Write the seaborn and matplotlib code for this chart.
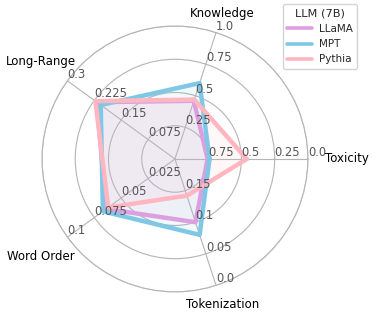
import numpy as np
import pandas as pd
import matplotlib
matplotlib.use('Agg')
import matplotlib.pyplot as plt
from matplotlib.lines import Line2D
import seaborn as sns

# Ejes del radar (sentido antihorario desde la derecha)
categorias = ['Toxicity', 'Knowledge', 'Long-Range', 'Word Order', 'Tokenization']

# Valor en el centro y en el borde exterior de cada eje
valor_centro = [1.0, 0.0, 0.0, 0.0, 0.2]
valor_borde = [0.0, 1.0, 0.3, 0.1, 0.0]

# Etiquetas de los anillos para cada eje
etiquetas_anillos = [
    ['0.75', '0.5', '0.25', '0.0'],
    ['0.25', '0.5', '0.75', '1.0'],
    ['0.075', '0.15', '0.225', '0.3'],
    ['0.025', '0.05', '0.075', '0.1'],
    ['0.15', '0.1', '0.05', '0.0'],
]

# Valores de cada modelo
modelos = ['LLaMA', 'MPT', 'Pythia']
llama = [0.755, 0.46, 0.218, 0.064, 0.100]
mpt = [0.740, 0.60, 0.207, 0.067, 0.080]
pythia = [0.460, 0.47, 0.222, 0.062, 0.142]

colores = {'LLaMA': '#dca0e0', 'MPT': '#7ec8e6', 'Pythia': '#ffb6c1'}


def normalizar(valores):
    return [(v - c) / (b - c) for v, c, b in zip(valores, valor_centro, valor_borde)]


angulos = np.deg2rad(np.arange(len(categorias)) * 72.0)

filas = []
for nombre, valores in zip(modelos, [llama, mpt, pythia]):
    r = normalizar(valores)
    for i in range(len(categorias)):
        filas.append({'LLM': nombre, 'theta': angulos[i], 'r': r[i]})
    # cerrar el poligono
    filas.append({'LLM': nombre, 'theta': 2 * np.pi, 'r': r[0]})
df = pd.DataFrame(filas)

sns.set_style('white')
plt.rcParams['font.family'] = ['DejaVu Sans']

fig = plt.figure(figsize=(3.74, 3.16), dpi=100)
ax = fig.add_axes([0.1123, 0.0759, 0.711, 0.842], projection='polar')

sns.lineplot(data=df, x='theta', y='r', hue='LLM', palette=colores, hue_order=modelos,
             estimator=None, sort=False, lw=3.2, legend=False, ax=ax, zorder=3)

for nombre in modelos:
    sub = df[df['LLM'] == nombre]
    ax.fill(sub['theta'], sub['r'], color=colores[nombre], alpha=0.1, zorder=2)

ax.set_ylim(0, 1)
ax.set_xticks(angulos)
ax.set_xticklabels([])
ax.set_yticks([0.25, 0.5, 0.75, 1.0])
ax.set_yticklabels([])
ax.set_xlabel('')
ax.set_ylabel('')
ax.grid(True, color='#b4b4b4', lw=0.8)
ax.spines['polar'].set_color('#b4b4b4')
ax.spines['polar'].set_linewidth(0.8)

# etiquetas numericas de cada eje
for i, etiquetas in enumerate(etiquetas_anillos):
    for k, texto in enumerate(etiquetas):
        ax.text(angulos[i], (k + 1) / 4, texto, ha='left', va='bottom',
                fontsize=8.3, color='#555555', zorder=5)

# nombres de los ejes
radios_nombre = [1.29, 1.15, 1.245, 1.25, 1.15]
for i, nombre in enumerate(categorias):
    ax.text(angulos[i], radios_nombre[i], nombre, ha='center', va='center',
            fontsize=8.5, color='black', clip_on=False)

manejadores = [Line2D([0], [0], color=colores[m], lw=2.6) for m in modelos]
fig.legend(manejadores, modelos, title='LLM (7B)', loc='upper right',
           bbox_to_anchor=(0.955, 0.987), borderaxespad=0, fontsize=7.5,
           title_fontsize=8.2, handlelength=2.4, handletextpad=0.6,
           labelspacing=0.5, borderpad=0.45, framealpha=0.9, edgecolor='#d0d0d0')

fig.savefig('out.png', dpi=100)
